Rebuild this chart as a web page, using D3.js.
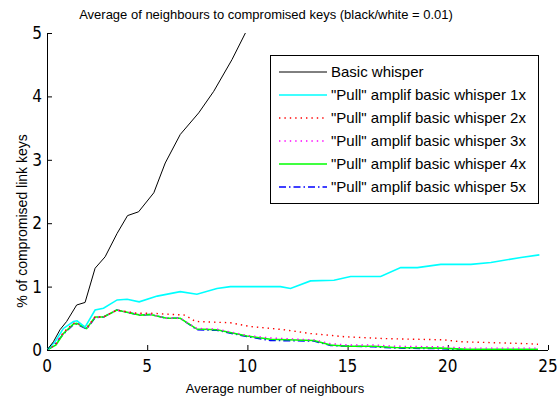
<!DOCTYPE html>
<html>
<head>
<meta charset="utf-8">
<script src="https://cdn.jsdelivr.net/npm/d3@7"></script>
<style>
  body { margin: 0; background: #fff; }
  text { font-family: "Liberation Sans", Arial, sans-serif; font-size: 13px; fill: #000; }
  .ticklbl { font-family: "Liberation Sans Narrow", "DejaVu Sans Condensed", "Liberation Sans", sans-serif; font-size: 17px; }
</style>
</head>
<body>
<svg class="svg1" width="558" height="401"></svg>
<script>
// series: [avg neighbours, % compromised]
var basicWhisper = [[0,0],[0.32,0.13],[0.65,0.32],[0.98,0.45],[1.48,0.71],[1.9,0.75],[2.4,1.29],[2.9,1.47],
    [3.5,1.84],[4.02,2.12],[4.57,2.18],[5.33,2.48],[5.9,2.95],[6.65,3.4],[7.57,3.74],[8.32,4.08],[9.23,4.58],
    [9.9,5.0],[10.4,5.35]];
var pull1x = [[0,0],[0.4,0.13],[0.82,0.34],[1.32,0.45],[1.5,0.46],[1.9,0.36],[2.4,0.63],[2.82,0.66],[3.5,0.79],
    [4.0,0.8],[4.6,0.76],[5.5,0.85],[6.65,0.92],[7.48,0.88],[8.48,0.97],[9.15,1.0],[11.65,1.0],[12.15,0.97],
    [13.15,1.09],[14.32,1.1],[15.15,1.16],[16.65,1.16],[17.65,1.3],[18.48,1.3],[19.65,1.35],[21.15,1.35],
    [22.15,1.38],[23.65,1.46],[24.57,1.5]];
var pull2x = [[0,0],[0.45,0.1],[0.82,0.28],[1.32,0.42],[1.48,0.43],[1.98,0.35],[2.4,0.52],[2.82,0.52],[3.48,0.63],
    [4.48,0.58],[5.15,0.58],[6.9,0.55],[7.4,0.45],[9.15,0.43],[10.15,0.37],[11.82,0.32],[13.15,0.26],
    [14.82,0.21],[16.82,0.18],[19.82,0.16],[20.65,0.13],[24.0,0.1],[24.5,0.09]];
var pull3x = [[0,0],[0.45,0.09],[0.82,0.27],[1.32,0.42],[1.48,0.43],[1.98,0.34],[2.4,0.52],[2.82,0.52],[3.48,0.63],
    [4.65,0.56],[5.15,0.56],[5.98,0.5],[6.65,0.5],[7.48,0.34],[8.48,0.33],[9.98,0.23],[11.15,0.19],[13.32,0.16],
    [14.15,0.1],[14.98,0.08],[16.32,0.08],[17.32,0.06],[19.65,0.05],[20.98,0.03],[24.5,0.03]];
var pull4x = [[0,0],[0.45,0.08],[0.82,0.26],[1.32,0.41],[1.48,0.42],[1.98,0.34],[2.4,0.52],[2.82,0.52],[3.48,0.63],
    [4.65,0.55],[5.15,0.56],[5.98,0.5],[6.65,0.5],[7.48,0.33],[8.48,0.32],[9.98,0.22],[11.15,0.17],[13.32,0.15],
    [14.15,0.08],[14.98,0.06],[16.32,0.06],[17.32,0.04],[19.65,0.03],[20.98,0.01],[24.5,0.01]];
var pull5x = [[0,0],[0.3,0.06],[0.82,0.25],[1.32,0.4],[1.48,0.41],[1.98,0.33],[2.4,0.51],[2.82,0.52],[3.48,0.63],
    [4.65,0.55],[5.15,0.56],[5.98,0.5],[6.65,0.5],[7.48,0.32],[8.48,0.31],[9.98,0.21],[11.15,0.15],[13.32,0.14],
    [14.15,0.07],[14.98,0.06],[16.32,0.05],[17.32,0.03],[19.65,0.02],[20.98,0.0],[24.5,0.0]];

var seriesNames = ["Basic whisper", "\"Pull\" amplif basic whisper 1x", "\"Pull\" amplif basic whisper 2x",
    "\"Pull\" amplif basic whisper 3x", "\"Pull\" amplif basic whisper 4x", "\"Pull\" amplif basic whisper 5x"];
var xTicks = [0, 5, 10, 15, 20, 25];
var yTicks = [0, 1, 2, 3, 4, 5];

var allSeries = [basicWhisper, pull1x, pull2x, pull3x, pull4x, pull5x];
var styles = [
    { color: "#000000", width: 1, dash: null },
    { color: "#00ffff", width: 1.6, dash: null },
    { color: "#ff0000", width: 1.4, dash: "1.4,4" },
    { color: "#ff00ff", width: 1.4, dash: "1.4,4" },
    { color: "#00ff00", width: 1.6, dash: null },
    { color: "#0000ff", width: 1.4, dash: "7,3,1.5,3" }
];

var svg1 = d3.select(".svg1");
var M = { left: 47, right: 548, top: 33, bottom: 350 };

var scaleX = d3.scaleLinear().domain([0, 25]).range([M.left, M.right]);
var scaleY = d3.scaleLinear().domain([0, 5]).range([M.bottom, M.top]);

svg1.append("defs").append("clipPath").attr("id", "plotclip")
    .append("rect")
    .attr("x", M.left).attr("y", M.top)
    .attr("width", M.right - M.left).attr("height", M.bottom - M.top);

// axes, MATLAB style: ticks pointing inwards
var xAxis = d3.axisTop(scaleX).tickValues(xTicks).tickSize(5).tickFormat("");
var yAxis = d3.axisRight(scaleY).tickValues(yTicks).tickSize(5).tickFormat("");

var gx = svg1.append("g").attr("transform", "translate(0," + M.bottom + ")").call(xAxis);
var gy = svg1.append("g").attr("transform", "translate(" + M.left + ",0)").call(yAxis);
[gx, gy].forEach(function(g) {
    g.select(".domain").attr("stroke", "#000").attr("stroke-width", 1);
    g.selectAll(".tick line").attr("stroke", "#000");
});
gx.select(".domain").attr("d", "M" + M.left + ",0.5H" + M.right);
gy.select(".domain").attr("d", "M0.5," + M.bottom + "V" + M.top);

svg1.append("g").selectAll("text")
    .data(xTicks).enter().append("text")
    .attr("class", "ticklbl")
    .attr("x", function(d) { return scaleX(d); })
    .attr("y", M.bottom + 22)
    .attr("text-anchor", "middle")
    .text(function(d) { return d; });

svg1.append("g").selectAll("text")
    .data(yTicks).enter().append("text")
    .attr("class", "ticklbl")
    .attr("x", M.left - 5)
    .attr("y", function(d) { return scaleY(d) + 6; })
    .attr("text-anchor", "end")
    .text(function(d) { return d; });

var line = d3.line()
    .x(function(d) { return scaleX(d[0]); })
    .y(function(d) { return scaleY(d[1]); });

var plot = svg1.append("g").attr("clip-path", "url(#plotclip)");
// draw from last to first so black and cyan sit on top like the original
[5, 4, 3, 2, 1, 0].forEach(function(i) {
    plot.append("path")
        .datum(allSeries[i])
        .attr("d", line)
        .attr("fill", "none")
        .attr("stroke", styles[i].color)
        .attr("stroke-width", styles[i].width)
        .attr("stroke-dasharray", styles[i].dash);
});

// legend
var lg = svg1.append("g");
lg.append("rect")
    .attr("x", 270.5).attr("y", 55.5)
    .attr("width", 268).attr("height", 148)
    .attr("fill", "#fff").attr("stroke", "#000").attr("stroke-width", 1);

seriesNames.forEach(function(name, i) {
    var yy = 72 + i * 23;
    lg.append("line")
        .attr("x1", 279).attr("x2", 327)
        .attr("y1", yy).attr("y2", yy)
        .attr("stroke", styles[i].color)
        .attr("stroke-width", styles[i].width)
        .attr("stroke-dasharray", styles[i].dash);
    lg.append("text")
        .attr("x", 331).attr("y", yy + 5)
        .style("font-size", "15px")
        .text(name);
});

svg1.append("text")
    .attr("x", 266).attr("y", 19)
    .attr("text-anchor", "middle")
    .text("Average of neighbours to compromised keys (black/white = 0.01)");

svg1.append("text")
    .attr("x", 275).attr("y", 393)
    .attr("text-anchor", "middle")
    .text("Average number of neighbours");

svg1.append("text")
    .attr("transform", "translate(27,221) rotate(-90)")
    .attr("text-anchor", "middle")
    .style("font-size", "14px")
    .text("% of compromised link keys");
</script>
</body>
</html>
